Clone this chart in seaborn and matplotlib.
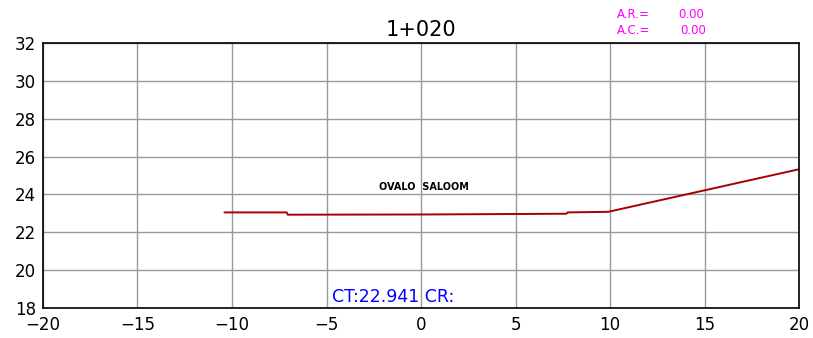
import pandas as pd
import seaborn as sns
import matplotlib.pyplot as plt

# perfil de la seccion transversal
offset = [-10.4, -7.1, -7.05, 0.0, 7.7, 7.75, 9.9, 20.0]
elev = [23.05, 23.05, 22.93, 22.94, 22.98, 23.05, 23.08, 25.33]
x_ticks = [-20, -15, -10, -5, 0, 5, 10, 15, 20]
y_ticks = [18, 20, 22, 24, 26, 28, 30, 32]

df = pd.DataFrame({'offset': offset, 'elev': elev})

sns.set_style('white')
plt.rcParams['font.family'] = ['DejaVu Sans']

fig = plt.figure(figsize=(8.13, 3.38), dpi=100)
ax = fig.add_axes([43 / 813, 1 - 308 / 338, 756 / 813, 265 / 338])

sns.lineplot(data=df, x='offset', y='elev', sort=False, color='#a80000',
             linewidth=1.4, ax=ax)

ax.set_xlim(-20, 20)
ax.set_ylim(18, 32)
ax.set_xticks(x_ticks)
ax.set_yticks(y_ticks)
ax.set_xticklabels([str(t).replace('-', '\u2212') for t in x_ticks], fontsize=12)
ax.set_yticklabels([str(t) for t in y_ticks], fontsize=12)
ax.tick_params(axis='x', length=0, pad=6, labelcolor='black')
ax.tick_params(axis='y', length=0, pad=5, labelcolor='black')
ax.grid(True, color='#999999', linewidth=1)
ax.set_axisbelow(True)
for s in ax.spines.values():
    s.set_color('black')
    s.set_linewidth(1.2)
ax.set_xlabel('')
ax.set_ylabel('')

# textos
fig.text(421 / 813, 1 - 30 / 338, '1+020', ha='center', va='center',
         fontsize=15, color='black')
fig.text(617 / 813, 1 - 15 / 338, 'A.R.=', color='#ff00ff', fontsize=8.5,
         ha='left', va='center')
fig.text(678 / 813, 1 - 15 / 338, '0.00', color='#ff00ff', fontsize=8.5,
         ha='left', va='center')
fig.text(617 / 813, 1 - 30 / 338, 'A.C.=', color='#ff00ff', fontsize=8.5,
         ha='left', va='center')
fig.text(680 / 813, 1 - 30 / 338, '0.00', color='#ff00ff', fontsize=8.5,
         ha='left', va='center')
ax.text(0.16, 24.39, 'OVALO  SALOOM', fontsize=7, fontweight='bold',
        ha='center', va='center', color='black')
ax.text(-4.7, 18.1, 'CT:22.941 CR:', color='#0000ff', fontsize=12.5,
        ha='left', va='bottom')

fig.savefig('out.png', dpi=100)
